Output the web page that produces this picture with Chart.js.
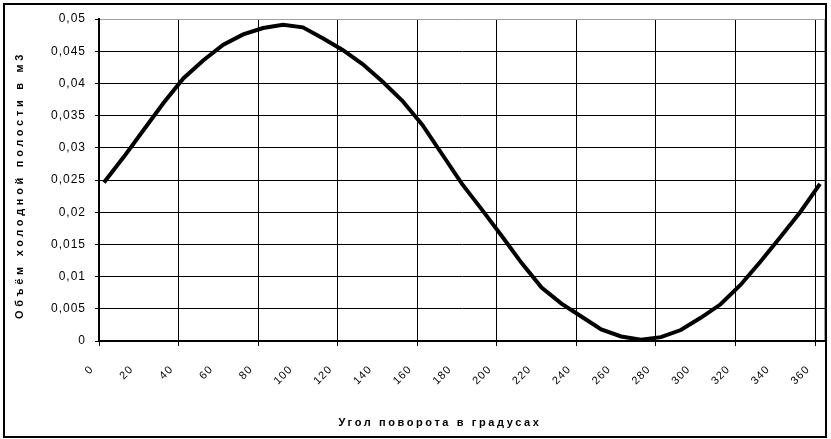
<!DOCTYPE html>
<html><head><meta charset="utf-8">
<script src="https://cdn.jsdelivr.net/npm/chart.js@4"></script>
<style>
html,body{margin:0;padding:0;background:#fff;}
#wrap{position:relative;width:831px;height:439px;}
#frame{position:absolute;left:3px;top:3px;width:824px;height:435px;box-sizing:border-box;border:2px solid #000;pointer-events:none;}
canvas{position:absolute;left:0;top:0;}
</style></head><body>
<div id="wrap"><canvas id="c" width="831" height="439"></canvas><div id="frame"></div></div>
<script>
// Categories of the axis (every 5 degrees)
const categories = ['0','5','10','15','20','25','30','35','40','45','50','55','60','65','70','75','80','85','90','95',
  '100','105','110','115','120','125','130','135','140','145','150','155','160','165','170','175','180','185','190','195',
  '200','205','210','215','220','225','230','235','240','245','250','255','260','265','270','275','280','285','290','295',
  '300','305','310','315','320','325','330','335','340','345','350','355','360'];
// Labelled categories
const xTickLabels = ['0','20','40','60','80','100','120','140','160','180','200','220','240','260','280','300','320','340','360'];
// Measured points (angle in degrees, cold volume in m3)
const angles = [0,10,20,30,40,50,60,70,80,90,100,110,120,130,140,150,160,170,180,
  190,200,210,220,230,240,250,260,270,280,290,300,310,320,330,340,350,360];
const volumes = [0.0246,0.0286,0.0328,0.0370,0.0408,0.0436,0.0460,0.0476,0.0486,0.0491,
  0.0487,0.0470,0.0452,0.0430,0.0403,0.0373,0.0336,0.0290,0.0244,
  0.0204,0.0163,0.0121,0.0083,0.0058,0.0038,0.0018,0.0007,0.0002,0.0006,
  0.0017,0.0036,0.0057,0.0087,0.0123,0.0161,0.0200,0.0244];
// Y axis ticks
const yValues = [0,0.005,0.01,0.015,0.02,0.025,0.03,0.035,0.04,0.045,0.05];
const yTickLabels = ['0','0,005','0,01','0,015','0,02','0,025','0,03','0,035','0,04','0,045','0,05'];

const xTitle = 'Угол поворота в градусах';
const yTitle = 'Объём холодной полости в м3';

const FONT = "'Liberation Sans', Arial, sans-serif";
const GRID_EVERY = 8;

// letter spacing / small offsets for axis texts
const textStyle = {
  x: {title: '2.6px', ticks: '1px', dx: -22, dy: 0},
  y: {title: '3.7px', ticks: '1px', dx: 0, dy: 5}
};
const SP = Chart.Scale ? Chart.Scale.prototype : Object.getPrototypeOf(Chart.registry.getScale('category').prototype);
const origTitle = SP.drawTitle, origLabels = SP.drawLabels;
SP.drawTitle = function() {
  const s = textStyle[this.id], c = this.ctx;
  c.save();
  if (s) { c.letterSpacing = s.title; c.translate(s.dx, s.dy); }
  origTitle.apply(this, arguments);
  c.restore();
};
SP.drawLabels = function() {
  const s = textStyle[this.id], c = this.ctx;
  c.save();
  if (s) c.letterSpacing = s.ticks;
  origLabels.apply(this, arguments);
  c.restore();
};

const transparent = 'rgba(0,0,0,0)';

new Chart(document.getElementById('c'), {
  type: 'line',
  data: {
    labels: categories,
    datasets: [{
      data: angles.map((a, i) => ({x: String(a), y: volumes[i]})),
      borderColor: '#000',
      borderWidth: 4,
      pointRadius: 0,
      tension: 0,
      fill: false
    }]
  },
  options: {
    responsive: false,
    animation: false,
    devicePixelRatio: 1,
    layout: {padding: {top: 19, right: 6, left: 0, bottom: 0}},
    plugins: {legend: {display: false}, tooltip: {enabled: false}},
    scales: {
      x: {
        type: 'category',
        offset: true,
        afterFit: s => { s.height = 98; s.paddingLeft = 0; s.paddingRight = 0; },
        grid: {
          offset: true,
          lineWidth: 1,
          tickLength: 5,
          color: c => c.index === undefined ? '#a0a0a0' : (c.index % GRID_EVERY === 0 ? '#000' : transparent),
          tickColor: c => (c.index !== undefined && c.index % GRID_EVERY === 0) ? '#000' : transparent
        },
        border: {color: '#000', width: 2},
        ticks: {
          autoSkip: false,
          minRotation: 45,
          maxRotation: 45,
          padding: 17,
          labelOffset: -12,
          color: '#000',
          font: {family: FONT, size: 11},
          callback: function(v, i) { const l = categories[i]; return xTickLabels.includes(l) ? l : ''; }
        },
        title: {
          display: true,
          text: xTitle,
          color: '#000',
          font: {family: FONT, size: 11, weight: 'bold'},
          padding: {top: 0, bottom: 9.4}
        }
      },
      y: {
        type: 'linear',
        min: 0,
        max: 0.05,
        afterBuildTicks: s => { s.ticks = yValues.map(v => ({value: v})); },
        afterFit: s => { s.width = 99; s.paddingTop = 0; s.paddingBottom = 0; },
        grid: {
          lineWidth: 1,
          tickLength: 4,
          color: c => (c.index === yValues.length - 1) ? '#a0a0a0' : '#000',
          tickColor: '#000'
        },
        border: {color: '#000', width: 2},
        ticks: {
          padding: 9,
          color: '#000',
          font: {family: FONT, size: 12},
          callback: function(v, i) { return yTickLabels[i]; }
        },
        title: {
          display: true,
          text: yTitle,
          color: '#000',
          font: {family: FONT, size: 11, weight: 'bold'},
          padding: {top: 13.4, bottom: 0}
        }
      }
    }
  }
});
</script>
</body></html>
